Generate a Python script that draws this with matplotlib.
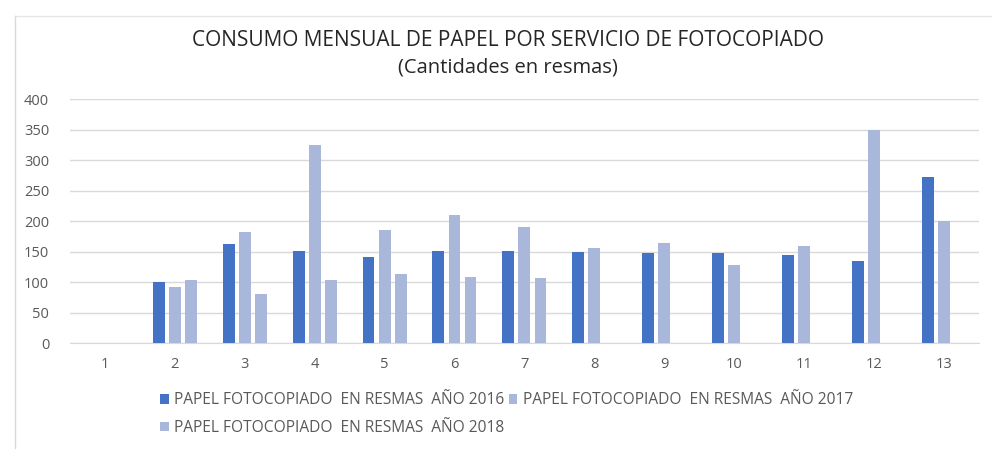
import matplotlib.pyplot as plt
import numpy as np
from matplotlib.lines import Line2D

plt.rcParams['font.family'] = ['Open Sans', 'DejaVu Sans']

# data
meses = ['1', '2', '3', '4', '5', '6', '7', '8', '9', '10', '11', '12', '13']
papel_2016 = [0, 100, 162, 152, 141, 152, 152, 150, 148, 148, 144, 135, 272]
papel_2017 = [0, 93, 183, 325, 186, 210, 191, 156, 165, 129, 160, 350, 200]
papel_2018 = [0, 104, 81, 104, 113, 109, 107, 0, 0, 0, 0, 0, 0]

etiquetas = ['PAPEL FOTOCOPIADO  EN RESMAS  AÑO 2016',
             'PAPEL FOTOCOPIADO  EN RESMAS  AÑO 2017',
             'PAPEL FOTOCOPIADO  EN RESMAS  AÑO 2018']

azul = '#4472C4'
azul_claro = '#A9B7DA'
gris = '#595959'

fig = plt.figure(figsize=(9.92, 4.49), dpi=100)
ax = fig.add_axes([0.0706, 0.235, 0.916, 0.5445])

x = np.arange(1, len(meses) + 1)
ancho = 0.17
paso = 0.23
b1 = ax.bar(x - paso, papel_2016, ancho, color=azul, label=etiquetas[0], zorder=3)
b2 = ax.bar(x, papel_2017, ancho, color=azul_claro, label=etiquetas[1], zorder=3)
b3 = ax.bar(x + paso, papel_2018, ancho, color=azul_claro, label=etiquetas[2], zorder=3)

ax.set_xlim(0.5, 13.5)
ax.set_ylim(0, 400)
ax.set_yticks(range(0, 401, 50))
ax.set_xticks(x)
ax.set_xticklabels(meses)
ax.tick_params(length=0, colors=gris, labelsize=10.5)
ax.tick_params(axis='y', pad=15)
ax.tick_params(axis='x', pad=10)
ax.grid(axis='y', color='#D9D9D9', linewidth=1, zorder=0)
for s in ['top', 'right', 'left']:
    ax.spines[s].set_visible(False)
ax.spines['bottom'].set_color('#D9D9D9')

fig.text(0.512, 0.91, 'CONSUMO MENSUAL DE PAPEL POR SERVICIO DE FOTOCOPIADO',
         ha='center', va='center', fontsize=15, color='#262626')
fig.text(0.512, 0.85, '(Cantidades en resmas)', ha='center', va='center',
         fontsize=14.5, color='#262626')

# legend row-major: 2016, 2017 on first row, 2018 below
leg = fig.legend([b1, b3, b2], [etiquetas[0], etiquetas[2], etiquetas[1]],
                 ncol=2, loc='upper left', bbox_to_anchor=(0.155, 0.14),
                 frameon=False, fontsize=11.2, handlelength=0.55, handleheight=0.6,
                 handletextpad=0.35, columnspacing=0.3, labelspacing=0.75,
                 borderaxespad=0)
for t in leg.get_texts():
    t.set_color(gris)

# spreadsheet border on the left/top
fig.add_artist(Line2D([0.015, 0.015], [0, 0.965], color='#D9D9D9', lw=1))
fig.add_artist(Line2D([0.015, 1], [0.965, 0.965], color='#E6E6E6', lw=1))

fig.savefig('out.png', dpi=100)
